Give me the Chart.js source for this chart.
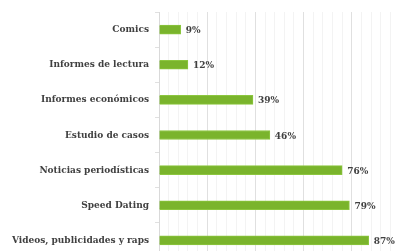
<!DOCTYPE html>
<html>
<head>
<meta charset="utf-8">
<script src="https://cdn.jsdelivr.net/npm/chart.js@4"></script>
<style>
  html, body { margin: 0; padding: 0; overflow: hidden; background: #fff; }
  #wrap { position: absolute; left: 0; top: 0; width: 400px; height: 270px; }
</style>
</head>
<body>
<div id="wrap"><canvas id="chart"></canvas></div>
<script>
const categories = [
    'Comics',
    'Informes de lectura',
    'Informes económicos',
    'Estudio de casos',
    'Noticias periodísticas',
    'Speed Dating',
    'Videos, publicidades y raps'
];
const percentValues = [9, 12, 39, 46, 76, 79, 87];

const fontFamily = '"DejaVu Serif Condensed", "DejaVu Serif", serif';
const labelFont = 'bold 10px ' + fontFamily;

// draws the "NN%" text at the end of each bar
const valueLabels = {
    id: 'valueLabels',
    afterDatasetsDraw(chart) {
        const ctx = chart.ctx;
        const meta = chart.getDatasetMeta(0);
        ctx.save();
        ctx.font = labelFont;
        ctx.fillStyle = '#404040';
        ctx.textBaseline = 'middle';
        ctx.textAlign = 'left';
        meta.data.forEach((bar, i) => {
            ctx.fillText(percentValues[i] + '%', bar.x + 5, bar.y + 1);
        });
        ctx.restore();
    }
};

var ctx = document.getElementById('chart').getContext('2d');
var barChart = new Chart(ctx, {
    type: 'bar',
    data: {
        labels: categories,
        datasets: [
            {
                data: percentValues,
                backgroundColor: '#7ab42c',
                borderColor: '#8cc63f',
                borderWidth: 1,
                barThickness: 9
            }
        ]
    },
    options: {
        indexAxis: 'y',
        animation: false,
        responsive: true,
        maintainAspectRatio: false,
        layout: { padding: { top: 12, right: 0, bottom: 0, left: 0 } },
        plugins: {
            legend: { display: false },
            tooltip: { enabled: false }
        },
        scales: {
            x: {
                min: 0,
                max: 100,
                ticks: { display: false, stepSize: 4 },
                border: { display: false },
                grid: {
                    drawTicks: false,
                    color: (c) => (c.index % 5 === 0 ? '#e0e0e0' : '#f3f3f3')
                }
            },
            y: {
                afterFit: (scale) => { scale.width = 159; },
                border: { color: '#d9d9d9' },
                grid: { drawOnChartArea: false, tickLength: 4, color: '#e0e0e0' },
                ticks: {
                    color: '#404040',
                    padding: 6,
                    font: { family: fontFamily, weight: 'bold', size: 10 }
                }
            }
        }
    },
    plugins: [valueLabels]
});
</script>
</body>
</html>
